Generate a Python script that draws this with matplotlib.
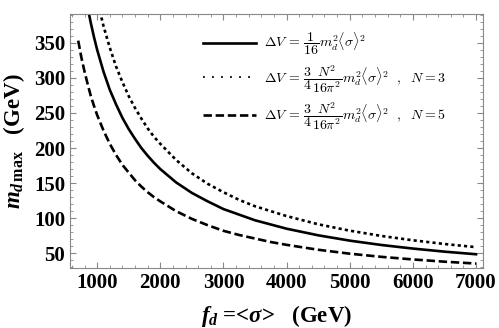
import matplotlib
matplotlib.use("Agg")
import matplotlib.pyplot as plt
from matplotlib.font_manager import FontProperties
from matplotlib.ticker import MultipleLocator

# valores (f_d em GeV, m_d max em GeV)
f_d = [700, 750, 800, 850, 900, 950, 1000, 1100, 1200, 1300, 1400, 1500,
       1600, 1700, 1800, 1900, 2000, 2250, 2500, 2750, 3000, 3250, 3500,
       3750, 4000, 4500, 5000, 5500, 6000, 6500, 7000]
m_solid = [486, 453, 425, 400, 378, 358, 340, 309, 283, 262, 243, 227,
           213, 200, 189, 179, 170, 151, 136, 124, 113, 105, 97,
           91, 85, 75.6, 68, 61.8, 56.7, 52.3, 48.6]
m_dotted = [587, 548, 514, 484, 457, 433, 411, 374, 343, 316, 294, 274,
            257, 242, 228, 216, 206, 183, 164, 149, 137, 126, 117,
            110, 103, 91.3, 82.2, 74.7, 68.5, 63.2, 58.7]
m_dashed = [353, 329, 309, 291, 274, 260, 247, 225, 206, 190, 176, 165,
            154, 145, 137, 130, 124, 110, 99, 90, 82, 76, 71,
            66, 62, 55, 49.4, 44.9, 41.2, 38, 35.3]

labels = [
    r"$\Delta V\,=\,\dfrac{1}{16}m_d^2\langle\sigma\rangle^2$",
    r"$\Delta V\,=\,\dfrac{3}{4}\dfrac{N^2}{16\pi^2}m_d^2\langle\sigma\rangle^2\ \ ,\ \ N=3$",
    r"$\Delta V\,=\,\dfrac{3}{4}\dfrac{N^2}{16\pi^2}m_d^2\langle\sigma\rangle^2\ \ ,\ \ N=5$",
]
xticks = [1000, 2000, 3000, 4000, 5000, 6000, 7000]
yticks = [50, 100, 150, 200, 250, 300, 350]

plt.rcParams["mathtext.fontset"] = "custom"
plt.rcParams["mathtext.rm"] = "Liberation Serif:bold"
plt.rcParams["mathtext.it"] = "Liberation Serif:bold:italic"
plt.rcParams["mathtext.bf"] = "Liberation Serif:bold"

fig = plt.figure(figsize=(4.99, 3.28), dpi=100)
ax = fig.add_axes([70 / 499, 1 - 268 / 328, 413 / 499, 254 / 328])

ax.plot(f_d, m_solid, color="black", lw=1.9, label=labels[0])
ax.plot(f_d, m_dotted, color="black", lw=1.9, linestyle=(0, (1.2, 1.2)), label=labels[1])
ax.plot(f_d, m_dashed, color="black", lw=1.9, linestyle=(0, (3.2, 1.4)), label=labels[2])

ax.set_xlim(570, 7110)
ax.set_ylim(29, 391)
ax.set_xticks(xticks)
ax.set_yticks(yticks)
ax.xaxis.set_minor_locator(MultipleLocator(200))
ax.yaxis.set_minor_locator(MultipleLocator(10))
ax.tick_params(which="both", direction="in", top=True, right=True, colors="#888888",
               labelcolor="black")
ax.tick_params(which="major", length=4, width=0.8)
ax.tick_params(which="minor", length=2, width=0.6)
for lab in ax.get_xticklabels() + ax.get_yticklabels():
    lab.set_fontfamily("Liberation Serif")
    lab.set_fontweight("bold")
    lab.set_fontsize(15)
for s in ax.spines.values():
    s.set_color("#888888")
    s.set_linewidth(0.8)

ax.set_xlabel(r"$f_d$ =<$\sigma$>   (GeV)", fontsize=16.5, fontfamily="Liberation Serif",
              fontweight="bold", labelpad=7)
ax.set_ylabel(r"$m_{d\,\mathrm{max}}$   (GeV)", fontsize=16.5, fontfamily="Liberation Serif",
              fontweight="bold", labelpad=5)

leg = ax.legend(loc="upper left", bbox_to_anchor=(0.292, 0.982), frameon=False,
                handlelength=3.8, handletextpad=0.6, labelspacing=0.4,
                prop=FontProperties(size=10, math_fontfamily="cm"))
for line in leg.get_lines():
    line.set_linewidth(1.9)
leg.get_lines()[1].set_linewidth(1.3)
leg.get_lines()[1].set_dashes((1, 4))

fig.savefig("out.png", dpi=100)
